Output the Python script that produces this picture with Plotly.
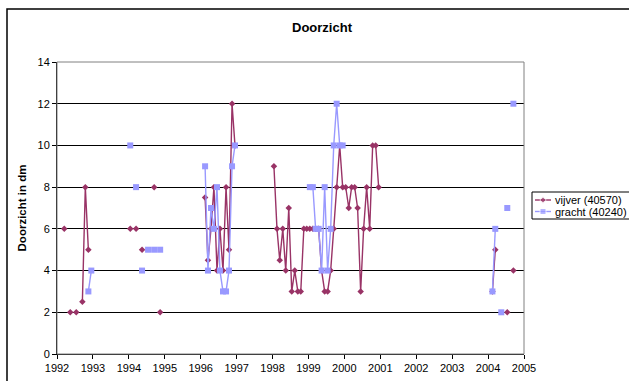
import plotly.graph_objects as go

# ---- data (monthly observations; day set to 15th of month) ----
vijver_months = [
    "1992-03", "1992-05", "1992-07", "1992-09", "1992-10", "1992-11",
    "1994-01", "1994-03", "1994-05", "1994-09", "1994-11",
    "1996-02", "1996-03", "1996-04", "1996-05", "1996-06", "1996-07", "1996-08",
    "1996-09", "1996-10", "1996-11", "1996-12",
    "1998-01", "1998-02", "1998-03", "1998-04", "1998-05", "1998-06", "1998-07",
    "1998-08", "1998-09", "1998-10", "1998-11", "1998-12",
    "1999-01", "1999-02", "1999-03", "1999-04", "1999-05", "1999-06", "1999-07",
    "1999-08", "1999-09", "1999-10", "1999-11", "1999-12",
    "2000-01", "2000-02", "2000-03", "2000-04", "2000-05", "2000-06", "2000-07",
    "2000-08", "2000-09", "2000-10", "2000-11", "2000-12",
    "2004-02", "2004-03", "2004-07", "2004-09",
]
vijver_values = [
    6, 2, 2, 2.5, 8, 5,
    6, 6, 5, 8, 2,
    7.5, 4.5, 6, 8, 4, 6, 4, 8, 5, 12, 10,
    9, 6, 4.5, 6, 4, 7, 3, 4, 3, 3, 6, 6,
    6, 6, 6, 6, 4, 3, 3, 4, 6, 8, 10, 8,
    8, 7, 8, 8, 7, 3, 6, 8, 6, 10, 10, 8,
    3, 5, 2, 4,
]

gracht_months = [
    "1992-11", "1992-12",
    "1994-01", "1994-03", "1994-05", "1994-07", "1994-09", "1994-11",
    "1996-02", "1996-03", "1996-04", "1996-05", "1996-06", "1996-07", "1996-08",
    "1996-09", "1996-10", "1996-11", "1996-12",
    "1999-01", "1999-02", "1999-03", "1999-04", "1999-05", "1999-06", "1999-07",
    "1999-08", "1999-09", "1999-10", "1999-11", "1999-12",
    "2004-02", "2004-03", "2004-05", "2004-07", "2004-09",
]
gracht_values = [
    3, 4,
    10, 8, 4, 5, 5, 5,
    9, 4, 7, 6, 8, 4, 3, 3, 4, 9, 10,
    8, 8, 6, 6, 4, 8, 4, 6, 10, 12, 10, 10,
    3, 6, 2, 7, 12,
]

series_names = ["vijver (40570)", "gracht (40240)"]
series_colors = ["#993366", "#9999FF"]
series_symbols = ["diamond", "square"]
series_msize = [5, 6]
year_ticks = list(range(1992, 2006))


def with_gaps(months, values):
    """Insert None where consecutive observations are more than a month apart."""
    xs, ys = [], []
    prev = None
    for m, v in zip(months, values):
        y, mo = map(int, m.split("-"))
        idx = y * 12 + mo
        if prev is not None and idx - prev > 1:
            xs.append(None)
            ys.append(None)
        xs.append(f"{m}-15")
        ys.append(v)
        prev = idx
    return xs, ys


FONT = "Liberation Sans, Arial, sans-serif"
W, H = 629, 381
L, R, T, B = 57, 0, 62, 27
PLOT_RIGHT = 524          # pixel x of plot-area right edge
pw, ph = W - L - R, H - T - B


def px_x(p):
    return (p - L) / pw


def px_y(p):
    return (H - B - p) / ph


fig = go.Figure()
series = [(vijver_months, vijver_values), (gracht_months, gracht_values)]
for (months, vals), name, col, sym, ms in zip(series, series_names, series_colors,
                                              series_symbols, series_msize):
    xs, ys = with_gaps(months, vals)
    fig.add_trace(go.Scatter(
        x=xs, y=ys, name=name, mode="lines+markers", connectgaps=False,
        showlegend=False,
        line=dict(color=col, width=1.4),
        marker=dict(symbol=sym, size=ms, color=col),
        xaxis="x", yaxis="y",
    ))

# ---- hand-built legend (box is clipped by the right edge like the original) ----
LEG_LEFT, LEG_TOP, LEG_BOTTOM = 532, 192, 219
row_y = [200, 211.5]
for name, col, sym, ms, ry in zip(series_names, series_colors, series_symbols,
                                  series_msize, row_y):
    fig.add_trace(go.Scatter(
        x=[535, 543, 551], y=[ry, ry, ry], mode="lines+markers",
        line=dict(color=col, width=1.4),
        marker=dict(symbol=sym, size=[0, ms, 0], color=col),
        showlegend=False, hoverinfo="skip",
        xaxis="x2", yaxis="y2",
    ))

annotations = [
    dict(text=name, xref="paper", yref="paper", x=px_x(553), y=px_y(ry),
         xanchor="left", yanchor="middle", showarrow=False,
         font=dict(size=11, family=FONT, color="black"))
    for name, ry in zip(series_names, row_y)
]

fig.update_layout(
    width=W, height=H,
    margin=dict(l=L, r=R, t=T, b=B, pad=0, autoexpand=False),
    paper_bgcolor="white", plot_bgcolor="rgba(0,0,0,0)",
    font=dict(family=FONT, size=11, color="black"),
    title=dict(text="<b>Doorzicht</b>", x=322 / W, xanchor="center",
               xref="container", y=1 - 27 / H, yanchor="middle", yref="container",
               font=dict(size=13, family=FONT)),
    showlegend=False,
    annotations=annotations,
    xaxis=dict(
        type="date", domain=[0, px_x(PLOT_RIGHT)],
        range=["1992-01-01", "2005-01-01"],
        tickvals=[f"{y}-01-01" for y in year_ticks],
        ticktext=[str(y) for y in year_ticks],
        ticks="outside", ticklen=4, tickcolor="black",
        showline=True, linecolor="black", linewidth=1,
        showgrid=False, zeroline=False,
        tickfont=dict(size=11),
    ),
    yaxis=dict(
        range=[0, 14], dtick=2, tick0=0,
        ticks="outside", ticklen=4, tickcolor="black",
        showline=True, linecolor="black", linewidth=1,
        showgrid=True, gridcolor="#000000", gridwidth=1,
        zeroline=False,
        tickfont=dict(size=11),
        title=dict(text="<b>Doorzicht in dm</b>", standoff=8,
                   font=dict(size=11.5)),
    ),
    xaxis2=dict(domain=[px_x(LEG_LEFT), 1], range=[LEG_LEFT, W], visible=False,
                anchor="y2", fixedrange=True),
    yaxis2=dict(domain=[px_y(LEG_BOTTOM + 6), px_y(LEG_TOP - 6)],
                range=[LEG_BOTTOM + 6, LEG_TOP - 6], visible=False,
                anchor="x2", fixedrange=True),
    shapes=[
        # plot-area border (grey)
        dict(type="rect", xref="paper", yref="paper",
             x0=0, x1=px_x(PLOT_RIGHT), y0=0, y1=1,
             line=dict(color="#808080", width=1), layer="above"),
        # chart-area outer border
        dict(type="rect", xref="paper", yref="paper",
             x0=px_x(7), x1=px_x(660), y0=px_y(420), y1=px_y(9),
             line=dict(color="black", width=1.5), layer="below"),
        # legend box
        dict(type="rect", xref="paper", yref="paper",
             x0=px_x(LEG_LEFT), x1=px_x(660), y0=px_y(LEG_BOTTOM), y1=px_y(LEG_TOP),
             line=dict(color="black", width=1), fillcolor="white", layer="below"),
    ],
)

fig.write_html("out.html")
